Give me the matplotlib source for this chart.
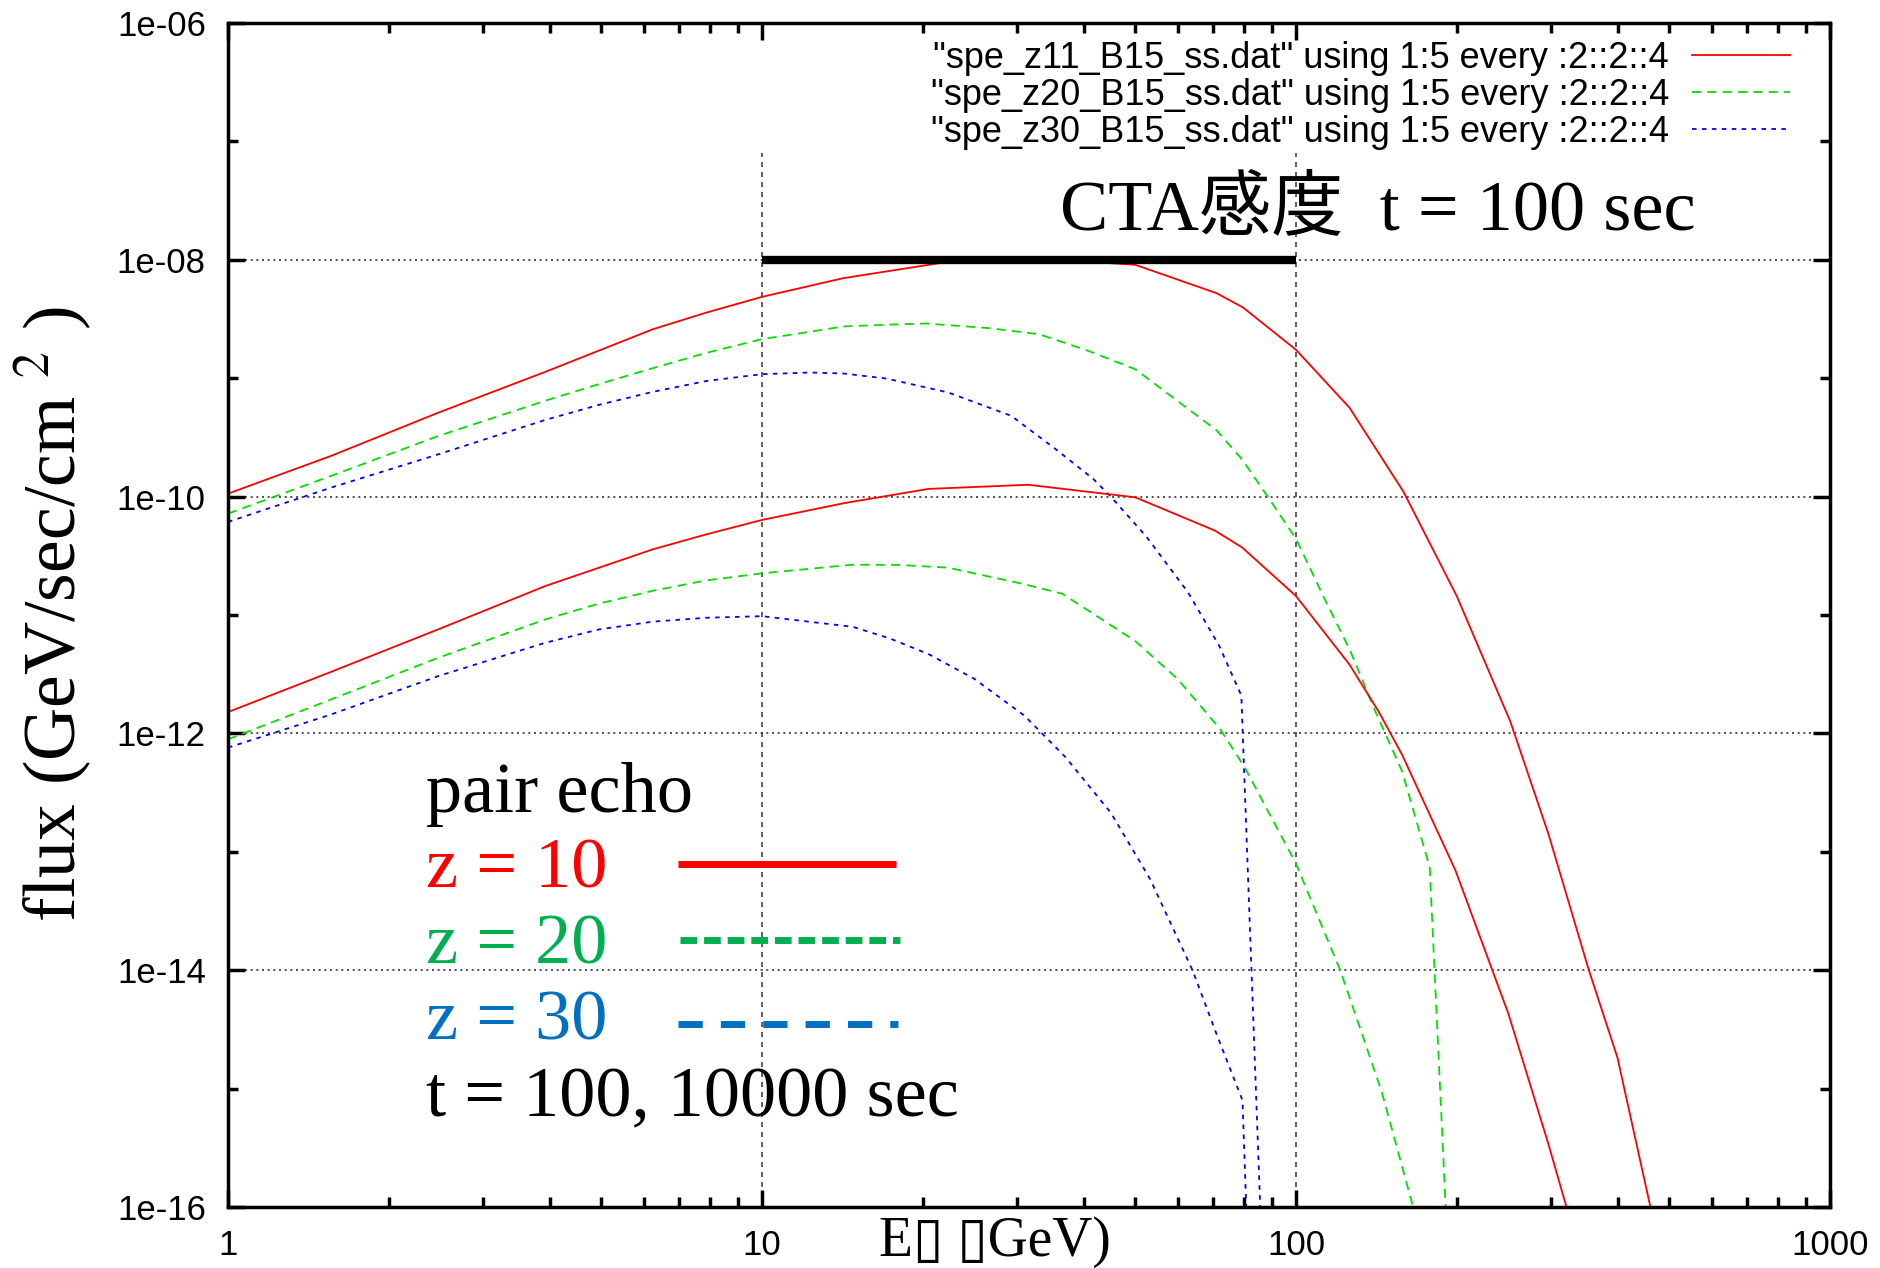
import numpy as np
import matplotlib.pyplot as plt
from matplotlib.ticker import LogLocator, NullFormatter

# energy (GeV) and log10 flux
# upper set: t = 100 sec, lower set: t = 10000 sec
red_E_hi = [1, 1.56, 2.48, 3.93, 6.25, 7.88, 10, 14.2, 22.3, 33, 50, 71, 79.6, 100, 126, 159, 200, 252, 297,
            353, 400, 461, 500]
red_lf_hi = [-9.975, -9.656, -9.29, -8.946, -8.586, -8.445, -8.313, -8.155, -8.017, -7.99, -8.042, -8.282,
             -8.403, -8.76, -9.25, -9.96, -10.84, -11.9, -12.85, -13.99, -14.74, -16.0, -16.9]

green_E_hi = [1, 1.56, 2.48, 3.93, 4.95, 6.25, 7.88, 10, 12.3, 14.2, 17.7, 20.3, 26.6, 33, 40.5, 50, 71, 79.4,
              88.5, 100, 113, 126, 141, 158, 178, 200]
green_lf_hi = [-10.144, -9.825, -9.487, -9.19, -9.05, -8.915, -8.785, -8.67, -8.608, -8.563, -8.546, -8.538,
               -8.577, -8.628, -8.763, -8.924, -9.44, -9.69, -10.0, -10.356, -10.86, -11.29, -11.82, -12.32,
               -13.13, -18.0]

blue_E_hi = [1, 1.56, 2.48, 3.93, 4.95, 6.25, 7.88, 10, 12.3, 14.2, 17.1, 22.3, 29.3, 35.5, 41.7, 45, 52.5,
             62.8, 71.8, 79, 89]
blue_lf_hi = [-10.214, -9.924, -9.642, -9.352, -9.225, -9.115, -9.023, -8.966, -8.952, -8.96, -9.003, -9.12,
              -9.318, -9.6, -9.85, -10.0, -10.34, -10.81, -11.26, -11.68, -18.0]

red_E_lo = [1, 1.56, 2.48, 3.93, 6.25, 7.88, 10, 14.3, 20.5, 31.5, 50, 70.5, 79.3, 100, 126, 143, 158, 199,
            250, 297, 321, 360]
red_lf_lo = [-11.82, -11.48, -11.12, -10.755, -10.445, -10.318, -10.197, -10.054, -9.935, -9.90, -10.006,
             -10.287, -10.43, -10.84, -11.42, -11.82, -12.18, -13.16, -14.37, -15.47, -16.0, -17.0]

green_E_lo = [1, 1.56, 2.48, 3.93, 4.95, 6.25, 7.88, 10, 14.8, 18, 22.3, 31, 36.5, 50, 60, 72, 80, 100, 121,
              133, 145, 165, 178]
green_lf_lo = [-12.05, -11.713, -11.36, -11.037, -10.904, -10.795, -10.707, -10.648, -10.575, -10.577, -10.6,
               -10.74, -10.82, -11.22, -11.54, -11.96, -12.28, -13.1, -14.0, -14.54, -15.04, -15.97, -16.6]

blue_E_lo = [1, 1.56, 2.48, 3.93, 4.95, 6.25, 7.88, 10, 14.8, 17.4, 20.5, 25, 31, 37, 45, 53.3, 64, 71,
             79.4, 89]
blue_lf_lo = [-12.12, -11.84, -11.515, -11.234, -11.122, -11.056, -11.023, -11.01, -11.10, -11.2, -11.33,
              -11.54, -11.85, -12.2, -12.67, -13.23, -14.0, -14.54, -15.1, -21.5]

legend_labels = ['"spe_z11_B15_ss.dat" using 1:5 every :2::2::4',
                 '"spe_z20_B15_ss.dat" using 1:5 every :2::2::4',
                 '"spe_z30_B15_ss.dat" using 1:5 every :2::2::4']

cta_E = [10, 100]
cta_flux = 1e-8
guide_E = [10, 100]
guide_top = 8e-8

y_major = [1e-16, 1e-14, 1e-12, 1e-10, 1e-08, 1e-06]
y_labels = ['1e-16', '1e-14', '1e-12', '1e-10', '1e-08', '1e-06']
y_minor = [1e-15, 1e-13, 1e-11, 1e-09, 1e-07]
x_major = [1, 10, 100, 1000]
x_labels = ['1', '10', '100', '1000']

W, H = 1881, 1268
plt.rcParams['mathtext.fontset'] = 'stix'

def fx(x):
    return x / W

def fy(y):
    return 1 - y / H

fig = plt.figure(figsize=(W / 100, H / 100), dpi=100)
ax = fig.add_axes([fx(228), fy(1207), (1830 - 228) / W, (1207 - 23) / H])
ax.set_xscale('log')
ax.set_yscale('log')

RED, GREEN, BLUE = '#ff0000', '#00e000', '#0000ff'
sty = {'red': dict(color=RED, lw=1.3, ls='-'),
       'green': dict(color=GREEN, lw=1.3, ls=(0, (5, 3.5))),
       'blue': dict(color=BLUE, lw=1.3, ls=(0, (2.5, 3)))}

h1, = ax.plot(red_E_hi, 10.0 ** np.array(red_lf_hi), **sty['red'])
h2, = ax.plot(green_E_hi, 10.0 ** np.array(green_lf_hi), **sty['green'])
h3, = ax.plot(blue_E_hi, 10.0 ** np.array(blue_lf_hi), **sty['blue'])
ax.plot(red_E_lo, 10.0 ** np.array(red_lf_lo), **sty['red'])
ax.plot(green_E_lo, 10.0 ** np.array(green_lf_lo), **sty['green'])
ax.plot(blue_E_lo, 10.0 ** np.array(blue_lf_lo), **sty['blue'])

# CTA sensitivity bar and guide lines
for e in guide_E:
    ax.plot([e, e], [1e-16, guide_top], color='#444444', lw=1.2, ls=(0, (3, 3)), zorder=1)
ax.plot(cta_E, [cta_flux, cta_flux], color='k', lw=6, solid_capstyle='butt', zorder=5)

ax.set_xlim(1, 1000)
ax.set_ylim(1e-16, 1e-6)
ax.set_yticks(y_major)
ax.set_yticklabels(y_labels)
ax.set_yticks(y_minor, minor=True)
ax.yaxis.set_minor_formatter(NullFormatter())
ax.set_xticks(x_major)
ax.set_xticklabels(x_labels)
ax.xaxis.set_minor_locator(LogLocator(base=10, subs=range(2, 10)))
ax.xaxis.set_minor_formatter(NullFormatter())
ax.yaxis.grid(True, which='major', color='#333333', lw=1.2, ls=(0, (1.2, 2.2)), zorder=0)

ax.tick_params(which='both', direction='in', top=True, right=True, width=2.5, labelsize=25, pad=16)
ax.tick_params(which='major', length=12)
ax.tick_params(which='minor', length=7)
for lab in ax.get_xticklabels() + ax.get_yticklabels():
    lab.set_family('Liberation Sans')
for sp in ax.spines.values():
    sp.set_linewidth(2.5)

ax.legend([h1, h2, h3], legend_labels, loc='upper right', bbox_to_anchor=(fx(1790), fy(41)),
          bbox_transform=fig.transFigure, markerfirst=False, frameon=False,
          prop=dict(family='Liberation Sans', size=26), handlelength=2.7, handletextpad=0.65,
          labelspacing=0.05, borderpad=0, borderaxespad=0)

serif = ['Liberation Serif', 'Noto Sans CJK JP', 'DejaVu Sans']
fig.text(fx(1060), fy(230), 'CTA感度  t = 100 sec', family=serif, size=52, va='baseline')
fig.text(fx(426), fy(812), 'pair echo', family=serif, size=52, va='baseline')
fig.text(fx(426), fy(888), 'z = 10', family=serif, size=52, va='baseline', color='#ff0000')
fig.text(fx(426), fy(964), 'z = 20', family=serif, size=52, va='baseline', color='#00b050')
fig.text(fx(426), fy(1040), 'z = 30', family=serif, size=52, va='baseline', color='#0070c0')
fig.text(fx(426), fy(1116), 't = 100, 10000 sec', family=serif, size=52, va='baseline')

# hand-drawn key next to the z labels
ax.plot([fx(678), fx(896)], [fy(864), fy(864)], transform=fig.transFigure, clip_on=False,
        color='#ff0000', lw=5, solid_capstyle='butt')
ax.plot([fx(680), fx(900)], [fy(940), fy(940)], transform=fig.transFigure, clip_on=False,
        color='#00b050', lw=5, ls=(0, (2.4, 1.0)))
ax.plot([fx(678), fx(898)], [fy(1024), fy(1024)], transform=fig.transFigure, clip_on=False,
        color='#0070c0', lw=5, ls=(0, (3.5, 2.6)))

fig.text(fx(54), fy(614), r'flux (GeV/sec/cm ${}^{2}$ )', family=serif, size=53,
         rotation=90, ha='center', va='center')
fig.text(fx(995), fy(1256), 'E\u25af \u25afGeV)', family=serif, size=40, ha='center', va='baseline')

fig.savefig('out.png', dpi=100)
